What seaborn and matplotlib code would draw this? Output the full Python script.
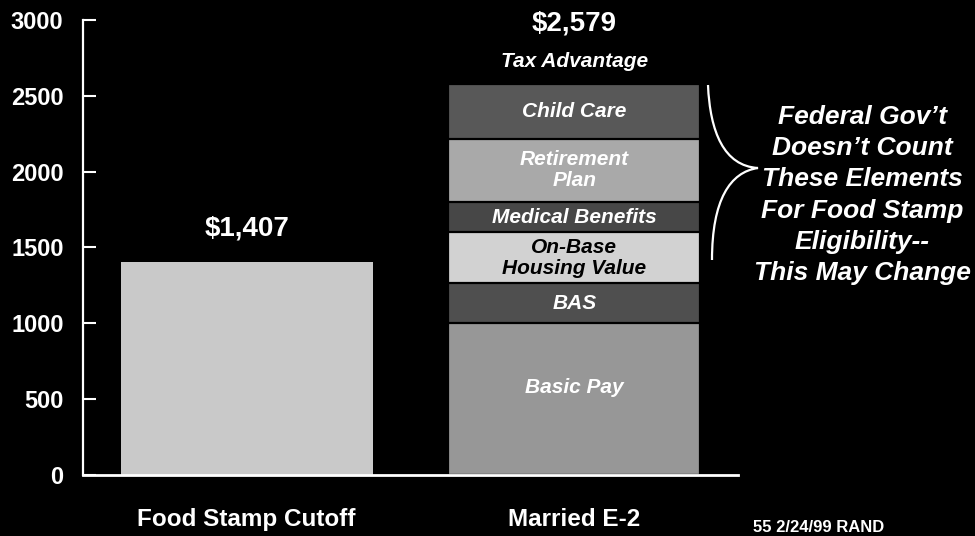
import matplotlib
matplotlib.use("Agg")
import matplotlib.pyplot as plt
from matplotlib.patches import PathPatch
from matplotlib.path import Path
import seaborn as sns
import pandas as pd

# ---- data ----
categories = ["Food Stamp Cutoff", "Married E-2"]
food_stamp_value = [1407]
components = ["Basic Pay", "BAS", "On-Base\nHousing Value", "Medical Benefits",
              "Retirement\nPlan", "Child Care"]
component_values = [1000, 263, 336, 204, 414, 362]
total_labels = ["$1,407", "$2,579"]
yticks = [0, 500, 1000, 1500, 2000, 2500, 3000]
note_text = ("Federal Gov\u2019t\nDoesn\u2019t Count\nThese Elements\n"
             "For Food Stamp\nEligibility--\nThis May Change")

# ---- style ----
sns.set_theme(style="white")
plt.rcParams["font.family"] = ["Liberation Sans", "DejaVu Sans"]

food_color = "#c9c9c9"
seg_colors = ["#979797", "#4f4f4f", "#d2d2d2", "#474747", "#a9a9a9", "#585858"]
seg_text_colors = ["white", "white", "black", "white", "white", "white"]

fig = plt.figure(figsize=(9.75, 5.36), dpi=100, facecolor="black")
ax = fig.add_axes([0.0851, 0.1138, 0.757 - 0.0851, 0.9627 - 0.1138])
ax.set_facecolor("black")

width = 0.77
# food stamp bar
df_food = pd.DataFrame({"cat": [categories[0]], "val": food_stamp_value})
sns.barplot(data=df_food, x="cat", y="val", order=categories, color=food_color,
            width=width, saturation=1, linewidth=0, ax=ax)

# stacked bar drawn as cumulative totals (largest first)
cum = []
s = 0
for v in component_values:
    s += v
    cum.append(s)
for i in range(len(components) - 1, -1, -1):
    df_seg = pd.DataFrame({"cat": [categories[1]], "val": [cum[i]]})
    sns.barplot(data=df_seg, x="cat", y="val", order=categories, color=seg_colors[i],
                width=width, saturation=1, edgecolor="black", linewidth=1.6, ax=ax)

# segment labels
bottoms = [0] + cum[:-1]
label_frac = [0.58, 0.5, 0.5, 0.5, 0.5, 0.5]
for i, name in enumerate(components):
    yv = bottoms[i] + component_values[i] * label_frac[i]
    ax.text(1, yv, name, ha="center", va="center", color=seg_text_colors[i],
            fontsize=15, fontweight="bold", fontstyle="italic", linespacing=1.12)

# totals
totals = [food_stamp_value[0], cum[-1]]
ax.text(0, totals[0] + 215, total_labels[0], ha="center", va="center",
        color="white", fontsize=20, fontweight="bold")
ax.text(1, 2975, total_labels[1], ha="center", va="center",
        color="white", fontsize=20, fontweight="bold", clip_on=False)
ax.text(1, cum[-1] + 150, "Tax Advantage", ha="center", va="center",
        color="white", fontsize=15, fontweight="bold", fontstyle="italic")

# axes styling
ax.set_xlim(-0.5, 1.5)
ax.set_ylim(0, 3000)
ax.set_yticks(yticks)
ax.set_yticklabels([str(t) for t in yticks])
ax.set_xlabel("")
ax.set_ylabel("")
ax.tick_params(axis="y", direction="in", length=9, width=1.5, color="white",
               labelcolor="white", labelsize=17, pad=14, left=True)
for lab in ax.get_yticklabels():
    lab.set_fontweight("bold")
ax.tick_params(axis="x", length=0, pad=24, labelcolor="white")
ax.set_xticks([0, 1])
ax.set_xticklabels(categories, fontsize=17.5, fontweight="bold")
for side in ["top", "right"]:
    ax.spines[side].set_visible(False)
ax.spines["left"].set_color("white")
ax.spines["left"].set_linewidth(1.6)
ax.spines["bottom"].set_color("white")
ax.spines["bottom"].set_linewidth(2)

# brace (figure pixel coordinates converted to fraction)
W, H = 975.0, 536.0
def fp(x, y):
    return (x / W, 1 - y / H)
verts = [fp(708, 85), fp(710, 132), fp(724, 166), fp(758, 168),
         fp(730, 172), fp(712, 200), fp(712, 260)]
codes = [Path.MOVETO, Path.CURVE4, Path.CURVE4, Path.CURVE4,
         Path.CURVE4, Path.CURVE4, Path.CURVE4]
fig.add_artist(PathPatch(Path(verts, codes), facecolor="none", edgecolor="white",
                         linewidth=1.6, transform=fig.transFigure))

fig.text(862 / W, 1 - 195 / H, note_text, ha="center", va="center", color="white",
         fontsize=19, fontweight="bold", fontstyle="italic", linespacing=1.37)
fig.text(753 / W, 1 - 535 / H, "55 2/24/99 RAND", ha="left", va="bottom",
         color="white", fontsize=12, fontweight="bold")

fig.savefig("out.png", dpi=100, facecolor="black")
